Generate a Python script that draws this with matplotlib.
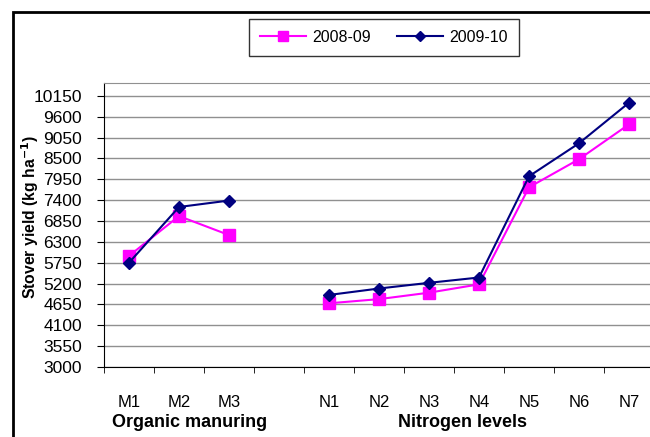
import matplotlib.pyplot as plt
from matplotlib.patches import Rectangle
import numpy as np

plt.rcParams['font.family'] = ['Liberation Sans', 'DejaVu Sans']

# categories (blank slot separates the two groups)
cats = ['M1', 'M2', 'M3', '', 'N1', 'N2', 'N3', 'N4', 'N5', 'N6', 'N7']
y2008 = [5930, 6980, 6480, np.nan, 4680, 4790, 4960, 5180, 7740, 8480, 9400]
y2009 = [5750, 7220, 7390, np.nan, 4900, 5070, 5220, 5360, 8030, 8900, 9970]
yticks = [3000, 3550, 4100, 4650, 5200, 5750, 6300, 6850, 7400, 7950, 8500, 9050, 9600, 10150]

fig = plt.figure(figsize=(6.5, 4.37), dpi=100)
ax = fig.add_axes([104/650, 1 - 367/437, 550/650, (367 - 83)/437])

x = np.arange(len(cats))
ax.plot(x, y2008, color='#FF00FF', marker='s', markersize=8, lw=1.5, label='2008-09', zorder=3)
ax.plot(x, y2009, color='#000080', marker='D', markersize=6.5, lw=1.5, label='2009-10', zorder=4)

ax.set_xlim(-0.5, len(cats) - 0.5)
ax.set_ylim(3000, 10490)
ax.set_yticks(yticks)
ax.set_yticklabels([str(v) for v in yticks], fontsize=12.5)
ax.grid(axis='y', color='#909090', lw=1)
ax.set_axisbelow(True)

ax.set_xticks(x)
ax.set_xticklabels(cats, fontsize=12)
ax.set_xticks(np.arange(-0.5, len(cats)), minor=True)
ax.tick_params(axis='x', which='major', length=0, pad=20)
ax.tick_params(axis='x', which='minor', length=4, direction='out', color='black')
ax.tick_params(axis='y', length=5, direction='out', pad=11)

for s in ['top', 'right']:
    ax.spines[s].set_color('#909090')
ax.spines['left'].set_color('black')
ax.spines['bottom'].set_color('black')

ax.set_ylabel('Stover yield (kg ha$^{\\mathbf{-1}}$)', fontsize=11.3, fontweight='bold')
ax.yaxis.set_label_coords((41 - 104)/550, (367 - 217)/(367 - 83))

fig.text(190/650, 1 - 427/437, 'Organic manuring', ha='center', va='baseline', fontsize=13, fontweight='bold')
fig.text(462/650, 1 - 427/437, 'Nitrogen levels', ha='center', va='baseline', fontsize=13, fontweight='bold')

leg = fig.legend(loc='center', bbox_to_anchor=(384/650, 1 - 37.5/437), ncol=2, frameon=True,
                 fancybox=False, edgecolor='black', fontsize=11.5, handlelength=2.9,
                 handletextpad=0.4, columnspacing=1.6, borderpad=0.7, markerscale=0.85)
leg.get_frame().set_linewidth(1)

# chart border, running off the right and bottom edges
fig.patches.append(Rectangle((13/650, -0.1), 1.2, 1 - 12/437 + 0.1, transform=fig.transFigure,
                             fill=False, edgecolor='black', lw=2))

fig.savefig('out.png', dpi=100)
